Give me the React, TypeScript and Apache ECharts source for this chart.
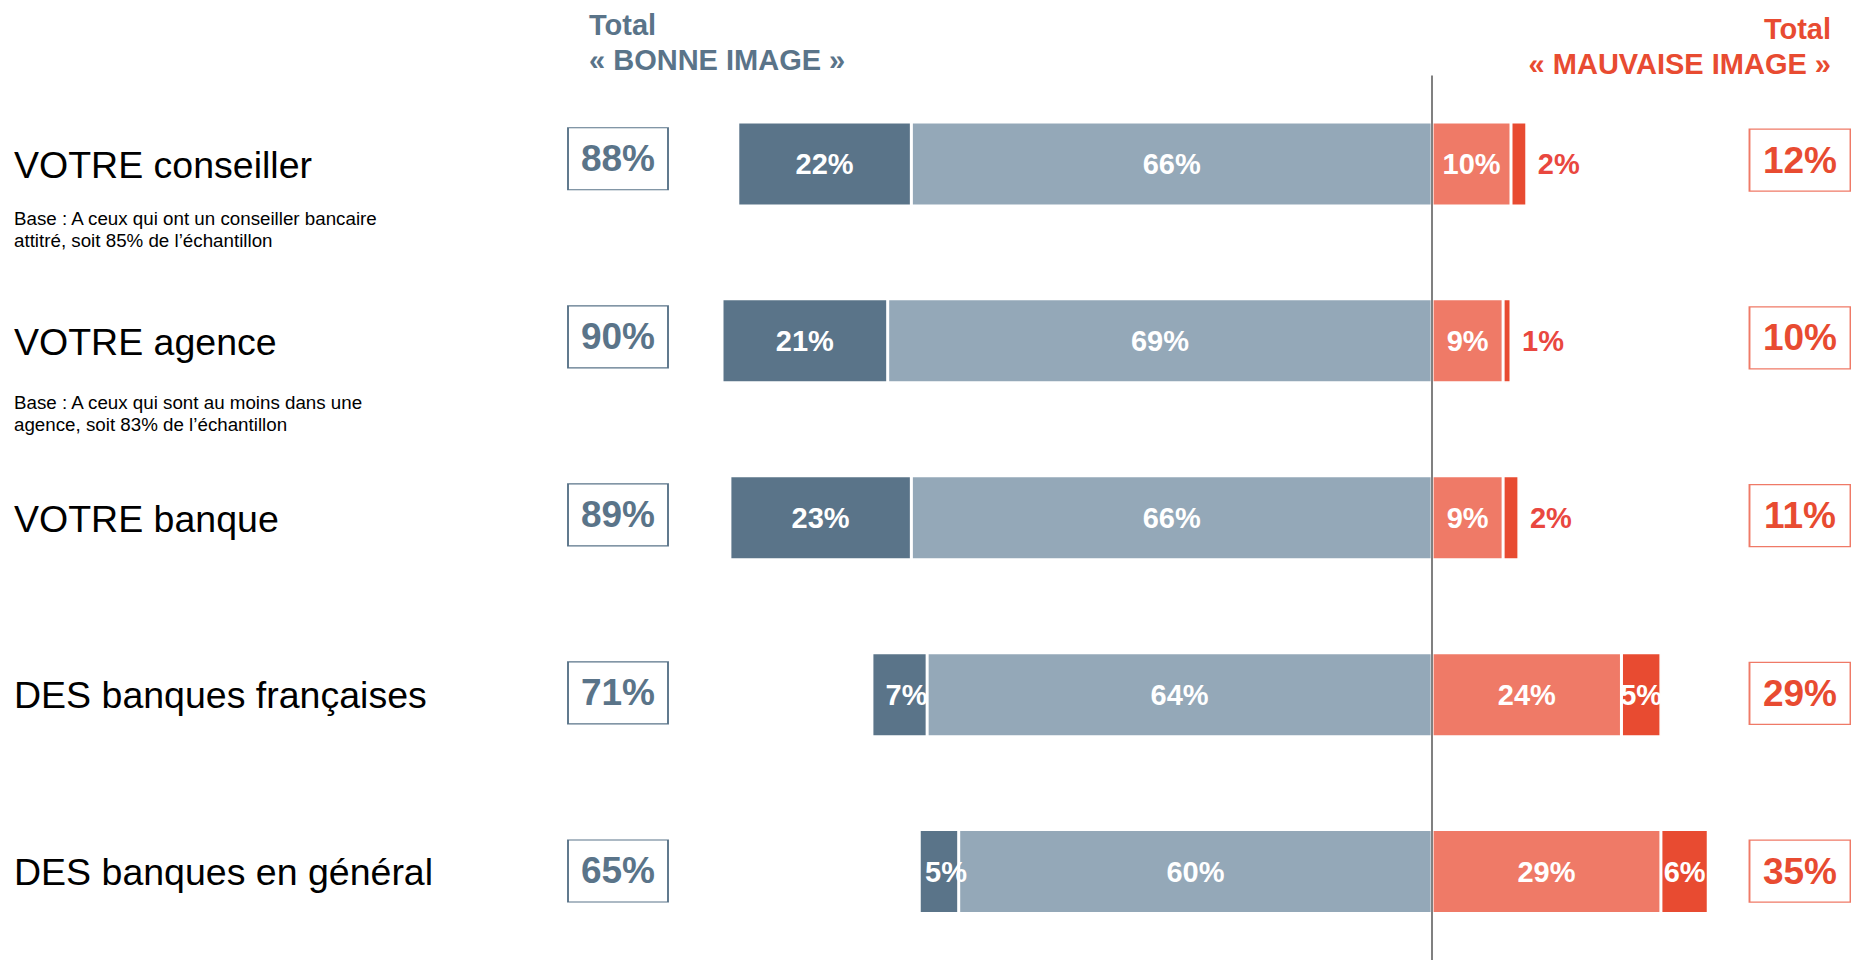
import React, { useEffect, useRef } from "react";
import * as echarts from "echarts";

const categories = [
  "VOTRE conseiller",
  "VOTRE agence",
  "VOTRE banque",
  "DES banques françaises",
  "DES banques en général",
];
const tresBonne = [22, 21, 23, 7, 5];
const plutotBonne = [66, 69, 66, 64, 60];
const plutotMauvaise = [10, 9, 9, 24, 29];
const tresMauvaise = [2, 1, 2, 5, 6];
const totalBonne = [88, 90, 89, 71, 65];
const totalMauvaise = [12, 10, 11, 29, 35];
const notes = [
  "Base : A ceux qui ont un conseiller bancaire\nattitré, soit 85% de l’échantillon",
  "Base : A ceux qui sont au moins dans une\nagence, soit 83% de l’échantillon",
];

const FONT = '"Liberation Sans", Arial, Helvetica, sans-serif';
const DARK_BLUE = "#5a7489";
const LIGHT_BLUE = "#94a8b8";
const SALMON = "#ef7a67";
const RED = "#e84b31";
const RED_TEXT = "#e9473f";

export default function App() {
  const ref = useRef<HTMLDivElement>(null);

  useEffect(() => {
    document.body.style.margin = "0";
    const chart = echarts.init(ref.current!, null, { renderer: "svg" });

    const barLabel = {
      show: true,
      position: "inside",
      color: "#fff",
      fontFamily: FONT,
      fontWeight: "bold",
      fontSize: 29,
      formatter: (p: any) => Math.abs(p.value) + "%",
    };
    const barCommon = {
      type: "bar",
      stack: "total",
      barWidth: 84,
      xAxisIndex: 0,
      yAxisIndex: 0,
      label: barLabel,
    };

    const option: any = {
      animation: false,
      backgroundColor: "#fff",
      grid: [
        { left: 722, width: 1104.6, top: 75.5, height: 889 },
        { left: 568, width: 100, top: 69.7, height: 902.5 },
        { left: 1750, width: 100, top: 71.2, height: 892 },
        { left: 700, width: 10, top: 77, height: 894 },
      ],
      xAxis: [
        { gridIndex: 0, type: "value", min: -90, max: 50, show: false },
        { gridIndex: 1, type: "value", min: -1, max: 1, show: false },
        { gridIndex: 2, type: "value", min: -1, max: 1, show: false },
        { gridIndex: 3, type: "value", min: -1, max: 1, show: false },
      ],
      yAxis: [
        {
          gridIndex: 0,
          type: "category",
          inverse: true,
          data: categories,
          axisLine: { show: false, onZero: false },
          axisTick: { show: false },
          splitLine: { show: false },
          axisLabel: { show: false },
        },
        { gridIndex: 1, type: "category", inverse: true, data: categories, show: false },
        { gridIndex: 2, type: "category", inverse: true, data: categories, show: false },
        {
          gridIndex: 3,
          type: "category",
          inverse: true,
          data: categories,
          axisLine: { show: false, onZero: false },
          axisTick: { show: false },
          splitLine: { show: false },
          axisLabel: {
            margin: 686,
            align: "left",
            fontSize: 37.5,
            color: "#000",
            fontFamily: FONT,
          },
        },
      ],
      series: [
        {
          ...barCommon,
          name: "Plutôt bonne image",
          data: plutotBonne.map((v) => -v),
          itemStyle: { color: LIGHT_BLUE, borderColor: "#fff", borderWidth: 1.5 },
          markLine: {
            silent: true,
            symbol: "none",
            label: { show: false },
            lineStyle: { color: "#808080", width: 2, type: "solid" },
            data: [{ xAxis: 0 }],
            z: 10,
          },
        },
        {
          ...barCommon,
          name: "Très bonne image",
          data: tresBonne.map((v) =>
            v < 10 ? { value: -v, label: { offset: [7, 0] } } : { value: -v }
          ),
          itemStyle: { color: DARK_BLUE, borderColor: "#fff", borderWidth: 1.5 },
        },
        {
          ...barCommon,
          name: "Plutôt mauvaise image",
          data: plutotMauvaise,
          itemStyle: { color: SALMON, borderColor: "#fff", borderWidth: 1.5 },
        },
        {
          ...barCommon,
          name: "Très mauvaise image",
          data: tresMauvaise.map((v) =>
            v <= 2
              ? {
                  value: v,
                  label: { position: "right", distance: 11, color: RED_TEXT },
                }
              : { value: v }
          ),
          itemStyle: { color: RED, borderColor: "#fff", borderWidth: 1.5 },
        },
        {
          type: "scatter",
          name: "Total bonne image",
          xAxisIndex: 1,
          yAxisIndex: 1,
          symbol: "rect",
          symbolSize: [100, 62],
          data: totalBonne.map((t, i) => [0, i, t]),
          itemStyle: { color: "#fff", borderColor: DARK_BLUE, borderWidth: 1.5, opacity: 1 },
          label: {
            show: true,
            position: "inside",
            color: DARK_BLUE,
            fontFamily: FONT,
            fontWeight: "bold",
            fontSize: 37,
            formatter: (p: any) => p.value[2] + "%",
          },
        },
        {
          type: "scatter",
          name: "Total mauvaise image",
          xAxisIndex: 2,
          yAxisIndex: 2,
          symbol: "rect",
          symbolSize: [101, 62],
          data: totalMauvaise.map((t, i) => [0, i, t]),
          itemStyle: { color: "#fff", borderColor: SALMON, borderWidth: 1.5, opacity: 1 },
          label: {
            show: true,
            position: "inside",
            color: RED,
            fontFamily: FONT,
            fontWeight: "bold",
            fontSize: 37,
            formatter: (p: any) => p.value[2] + "%",
          },
        },
      ],
      graphic: [
        {
          type: "text",
          x: 589,
          y: 7,
          style: {
            text: "Total\n« BONNE IMAGE »",
            font: `bold 29px ${FONT}`,
            lineHeight: 35,
            fill: DARK_BLUE,
          },
        },
        {
          type: "text",
          x: 1831,
          y: 11,
          style: {
            text: "Total",
            font: `bold 29px ${FONT}`,
            lineHeight: 35,
            fill: RED,
            align: "right",
          },
        },
        {
          type: "text",
          x: 1831,
          y: 46,
          style: {
            text: "« MAUVAISE IMAGE »",
            font: `bold 29px ${FONT}`,
            lineHeight: 35,
            fill: RED,
            align: "right",
          },
        },
        {
          type: "text",
          x: 14,
          y: 207,
          style: { text: notes[0], font: `18.75px ${FONT}`, lineHeight: 22, fill: "#000" },
        },
        {
          type: "text",
          x: 14,
          y: 391,
          style: { text: notes[1], font: `18.75px ${FONT}`, lineHeight: 22, fill: "#000" },
        },
      ],
    };

    chart.setOption(option);
    return () => chart.dispose();
  }, []);

  return (
    <div
      ref={ref}
      style={{ position: "absolute", left: 0, top: 0, width: 1851, height: 960 }}
    />
  );
}
